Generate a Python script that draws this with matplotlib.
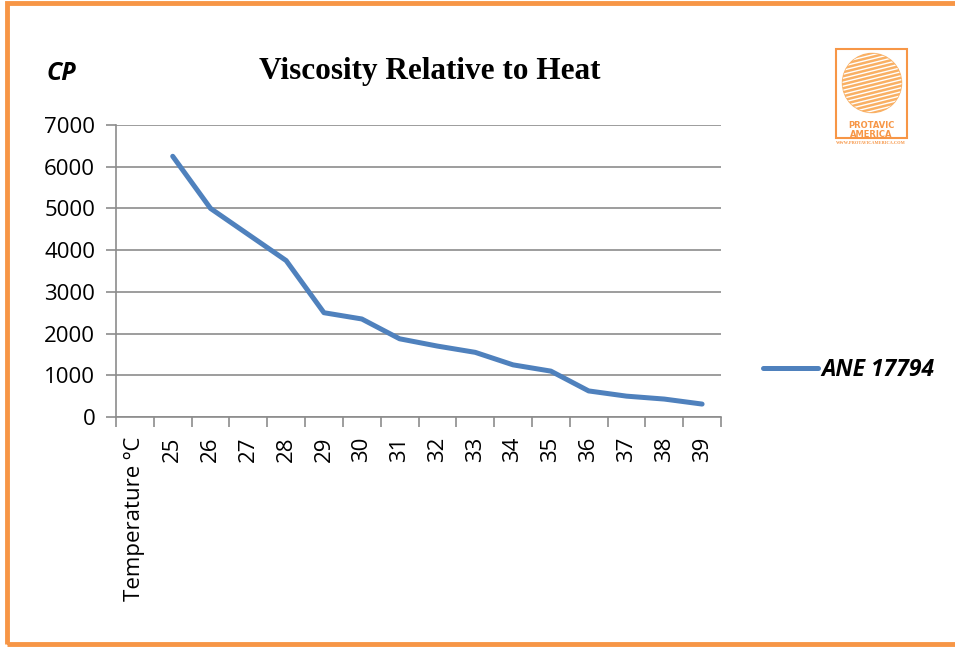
import matplotlib
matplotlib.use("Agg")
import matplotlib.pyplot as plt
import numpy as np
from matplotlib.patches import Rectangle, Circle

categories = ["Temperature ºC", "25", "26", "27", "28", "29", "30", "31", "32",
              "33", "34", "35", "36", "37", "38", "39"]
viscosity = [np.nan, 6250, 5000, 4375, 3750, 2500, 2350, 1875, 1700,
             1550, 1250, 1100, 625, 500, 430, 310]
series_name = "ANE 17794"

BLUE = "#4F81BD"
ORANGE = "#F79646"
GRID = "#8C8C8C"

W, H = 955, 647
fig = plt.figure(figsize=(W / 100, H / 100), dpi=100)
fig.patch.set_facecolor("white")

# orange frame (right edge runs off the picture)
fig.patches.append(Rectangle((7 / W, 3 / H), 960 / W, 641 / H,
                             transform=fig.transFigure, fill=False,
                             edgecolor=ORANGE, lw=3.5))

ax = fig.add_axes([116 / W, 1 - 417 / H, 605 / W, 292 / H])
x = np.arange(len(categories))
ax.plot(x, viscosity, color=BLUE, lw=3.6, solid_capstyle="round",
        solid_joinstyle="round", label=series_name)

ax.set_xlim(-0.5, len(categories) - 0.5)
ax.set_ylim(0, 7000)
ax.set_yticks(range(0, 7001, 1000))
ax.yaxis.grid(True, color=GRID, lw=1.2)
ax.set_axisbelow(True)
for s in ("top", "right"):
    ax.spines[s].set_visible(False)
for s in ("left", "bottom"):
    ax.spines[s].set_color(GRID)
    ax.spines[s].set_linewidth(1.2)

ax.set_xticks(np.arange(-0.5, len(categories)), labels=[])
ax.set_xticks(x, labels=categories, minor=True, rotation=90)
ax.tick_params(axis="x", which="major", length=7, color=GRID, width=1.2)
ax.tick_params(axis="x", which="minor", length=0, pad=14)
ax.tick_params(axis="y", length=7, color=GRID, width=1.2, pad=8)
for lab in ax.get_xticklabels(minor=True) + ax.get_yticklabels():
    lab.set_fontfamily("Open Sans")
    lab.set_fontsize(16)

fig.text(430 / W, 1 - 71 / H, "Viscosity Relative to Heat",
         family="Liberation Serif", fontweight="bold", fontsize=22.5,
         ha="center", va="center")
fig.text(61 / W, 1 - 73 / H, "CP", family="Open Sans",
         fontweight="bold", style="italic", fontsize=18, ha="center", va="center")

# legend
fig.legend(handles=ax.get_lines(), loc="center left",
           bbox_to_anchor=(742 / W, 1 - 370 / H), frameon=False,
           handlelength=2.4, handletextpad=0.15,
           prop=dict(family="Open Sans", weight="bold", style="italic", size=16.5))

# logo
fig.patches.append(Rectangle((836 / W, 1 - 138 / H), 71 / W, 89 / H,
                             transform=fig.transFigure, fill=False,
                             edgecolor=ORANGE, lw=1.5))
lax = fig.add_axes([841 / W, 1 - 114 / H, 62 / W, 62 / H])
lax.set_xlim(-1.05, 1.05)
lax.set_ylim(-1.05, 1.05)
lax.set_aspect("equal")
lax.axis("off")
circ = Circle((0, 0), 1, color="#F9B064")
lax.add_patch(circ)
for yy in np.linspace(-0.95, 0.95, 15):
    l, = lax.plot([-1.2, 1.2], [yy - 0.3, yy + 0.3], color="white", lw=1.0)
    l.set_clip_path(circ)
fig.text(871 / W, 1 - 126 / H, "PROTAVIC", color=ORANGE, fontsize=6,
         fontweight="bold", ha="center", va="center")
fig.text(871 / W, 1 - 134.5 / H, "AMERICA", color=ORANGE, fontsize=6,
         fontweight="bold", ha="center", va="center")
fig.text(871 / W, 1 - 143 / H, "WWW.PROTAVICAMERICA.COM", color=ORANGE,
         fontsize=3.2, family="Liberation Serif", fontweight="bold",
         ha="center", va="center")

fig.savefig("out.png", dpi=100, facecolor="white")
